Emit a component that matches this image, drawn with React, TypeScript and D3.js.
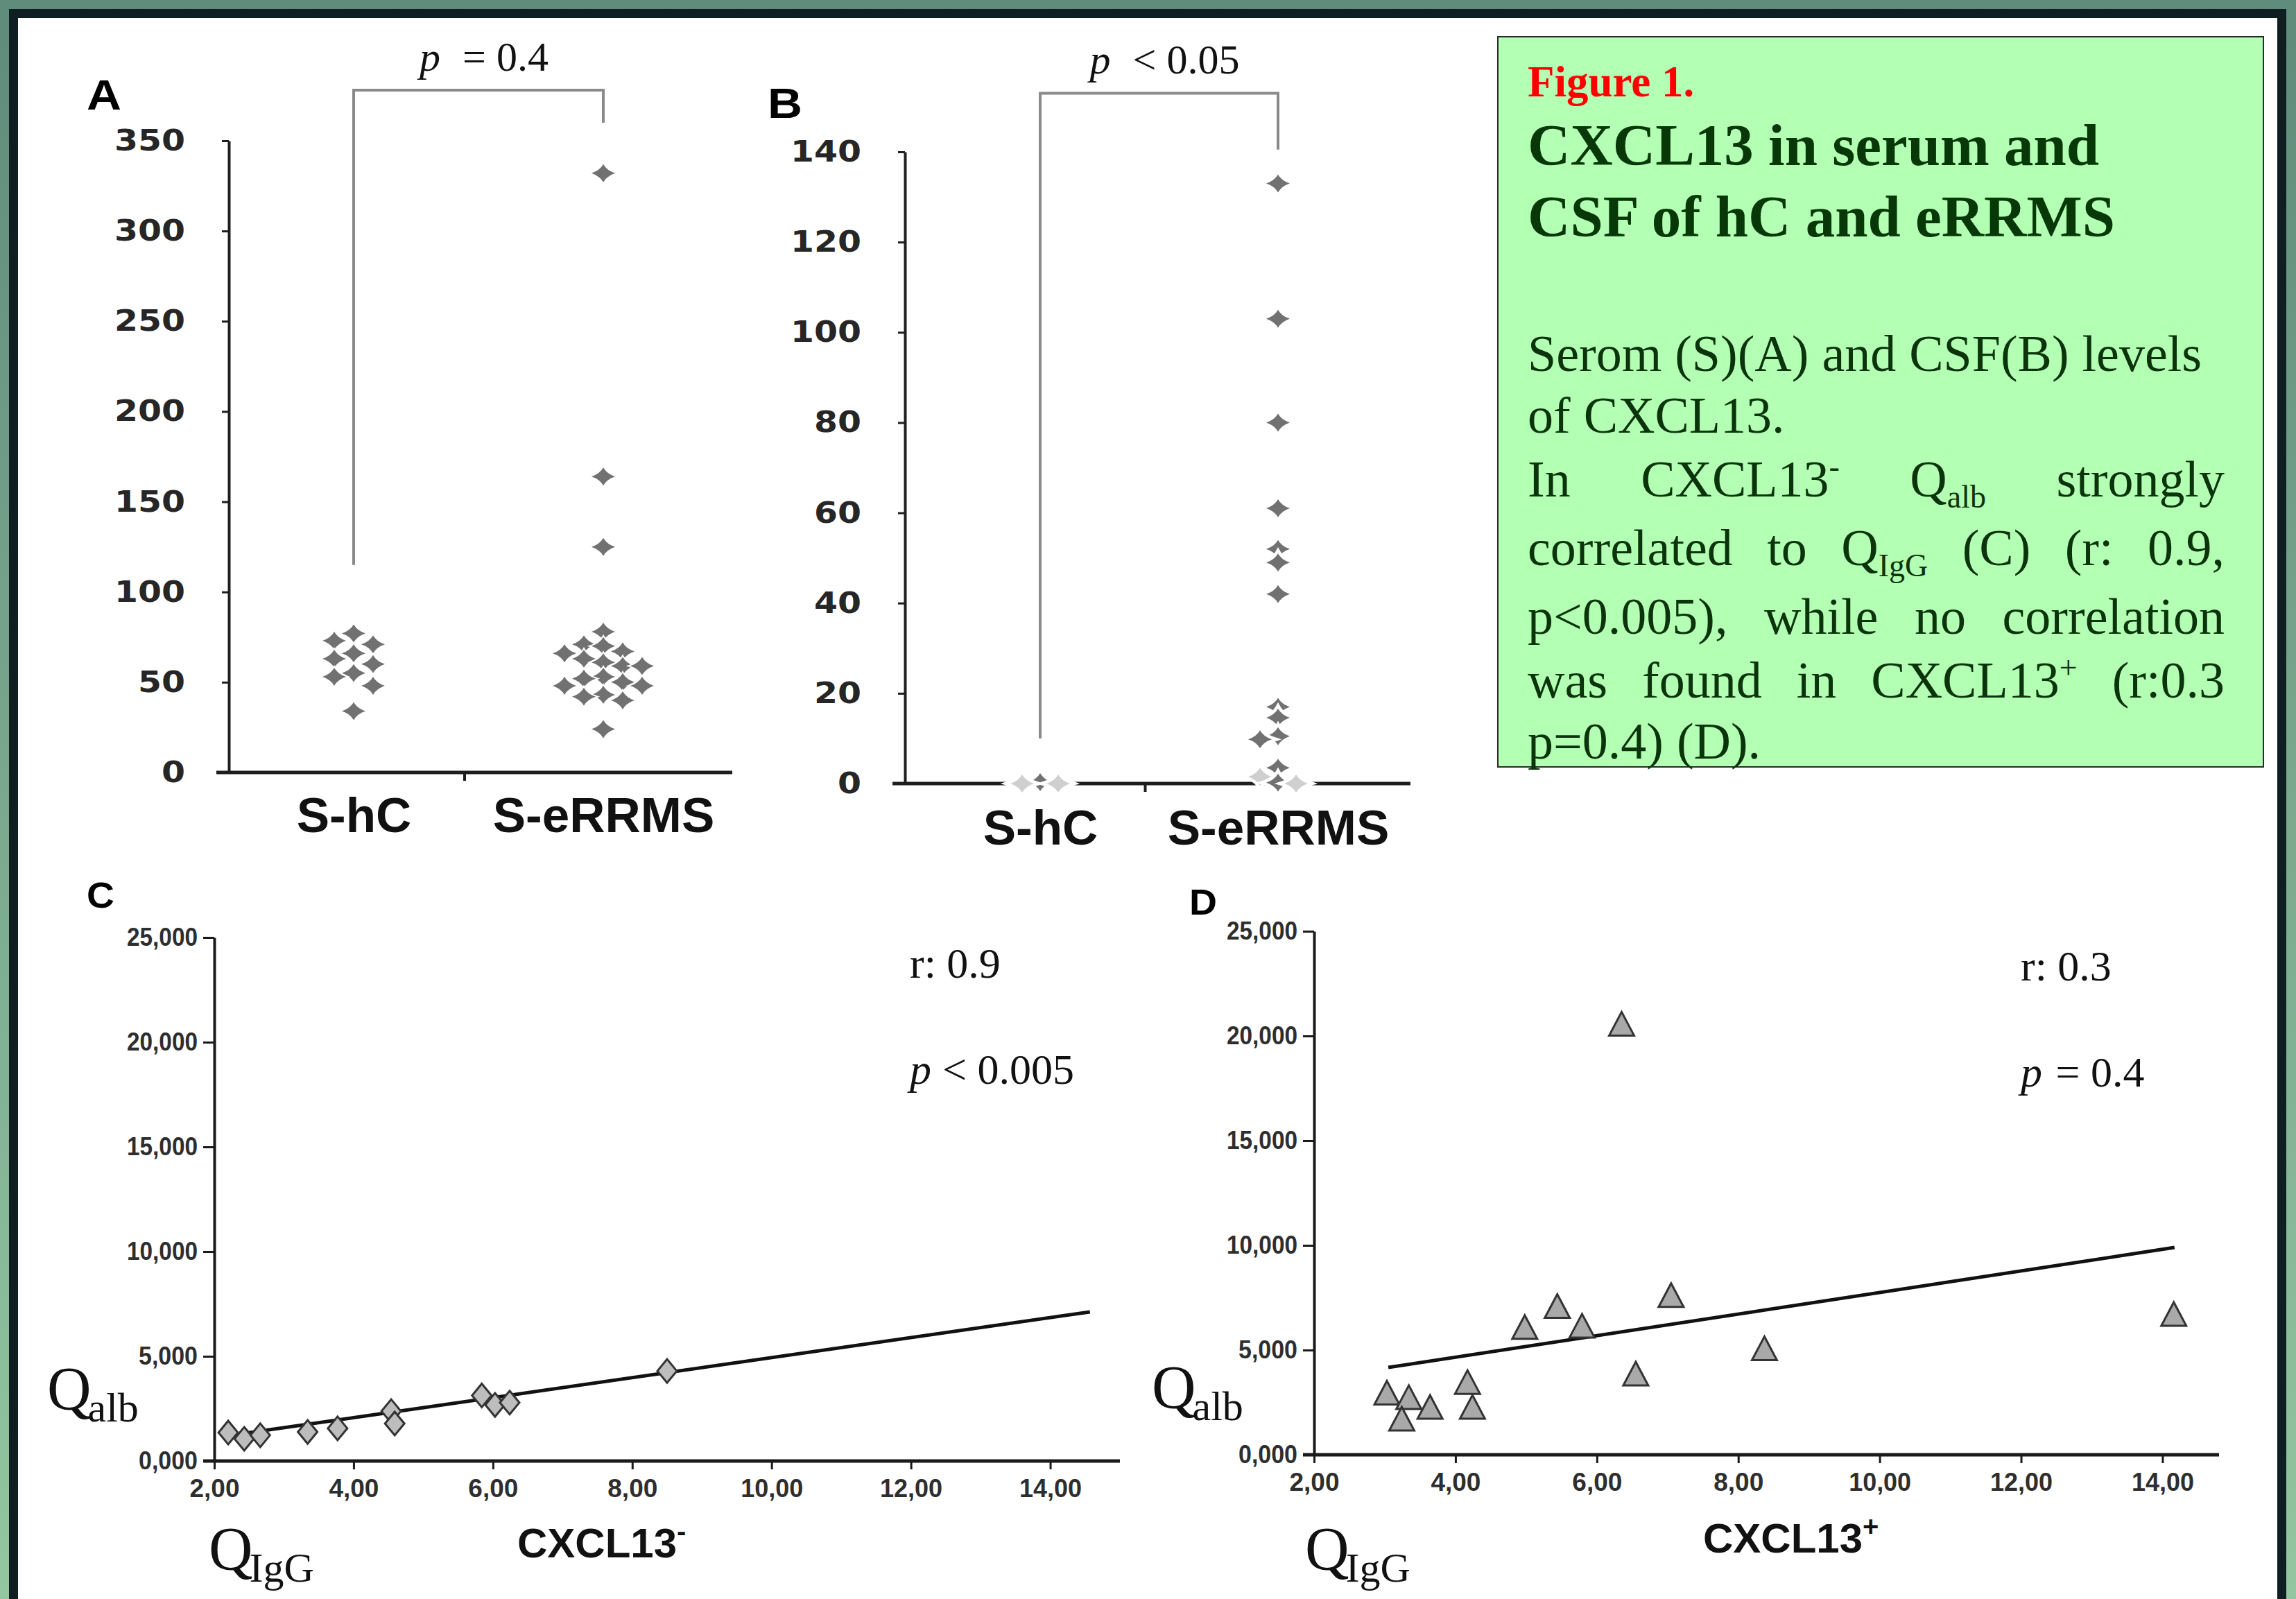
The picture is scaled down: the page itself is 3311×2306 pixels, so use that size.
import * as d3 from "d3"
import { useRef, useEffect } from "react"

const W = 3311
const H = 2306

// panel A - serum CXCL13
const serumGroups = ["S-hC", "S-eRRMS"]
const serumHC = [77, 73, 71, 66, 63, 60, 55, 53, 48, 34]
const serumERRMS = [332, 164, 125, 78, 71, 70, 67, 66, 63, 61, 59, 59, 53, 52, 50, 48, 48, 43, 42, 40, 24]
const serumTicks = [0, 50, 100, 150, 200, 250, 300, 350]

// panel B - CSF CXCL13 (faint = markers drawn pale in the original)
const csfGroups = ["S-hC", "S-eRRMS"]
const csfHC = [0.3]
const csfHCFaint = [0, 0]
const csfERRMS = [133, 103, 80, 61, 52, 49, 42, 17, 14.6, 10.5, 9.8, 3.5, 0.2]
const csfERRMSFaint = [1.5, 0]
const csfTicks = [0, 20, 40, 60, 80, 100, 120, 140]

// panel C - CXCL13 negative
const negQIgG = [2.2, 2.43, 2.66, 3.34, 3.77, 4.54, 4.59, 5.84, 6.03, 6.24, 8.5]
const negQAlb = [1.36, 1.06, 1.23, 1.39, 1.56, 2.38, 1.79, 3.13, 2.68, 2.79, 4.3]
const negFit = [0.157, 0.478] // intercept, slope
const negFitRange = [2.16, 14.57]

// panel D - CXCL13 positive
const posQIgG = [6.35, 7.05, 5.44, 4.98, 5.79, 8.37, 6.55, 14.16, 3.03, 3.34, 3.24, 3.64, 4.17, 4.24]
const posQAlb = [20.45, 7.49, 6.97, 5.97, 6.03, 4.95, 3.74, 6.59, 2.83, 2.62, 1.59, 2.15, 3.34, 2.15]
const posFit = [2.6, 0.515]
const posFitRange = [3.05, 14.17]

const qAlbTicks = [0, 5, 10, 15, 20, 25]
const qAlbLabels = ["0,000", "5,000", "10,000", "15,000", "20,000", "25,000"]
const qIgGTicks = [2, 4, 6, 8, 10, 12, 14]
const qIgGLabels = ["2,00", "4,00", "6,00", "8,00", "10,00", "12,00", "14,00"]

const captionHead = "Figure 1."
const captionTitle = ["CXCL13 in serum and", "CSF of hC and eRRMS"]
const captionLines = [
  "Serom (S)(A) and CSF(B) levels",
  "of CXCL13.",
  "In CXCL13^- Q_alb strongly",
  "correlated to Q_IgG (C) (r: 0.9,",
  "p<0.005), while no correlation",
  "was found in CXCL13^+ (r:0.3",
  "p=0.4) (D).",
]
const captionJustify = [false, false, true, true, true, true, false]

const serif = "'Liberation Serif', 'Times New Roman', serif"
const sans = "'Liberation Sans', Arial, sans-serif"
const verdana = "'DejaVu Sans', Verdana, sans-serif"
const narrow = "'Liberation Sans Narrow', 'Liberation Sans', Arial, sans-serif"

const starPath = "M0,-13 Q5,-4 17,0 Q5,4 0,13 Q-5,4 -17,0 Q-5,-4 0,-13 Z"
const diamondPath = "M0,-17 L14,0 L0,17 L-14,0 Z"
const trianglePath = "M0,-21 L18,13 L-18,13 Z"

type Pt = { v: number; faint: boolean }

// simple column beeswarm, at most two columns each side
const swarm = (vals: Pt[], y: (v: number) => number, cx: number, step: number, gap: number) => {
  const placed: { k: number; y: number }[] = []
  const cands = [0, -1, 1, -2, 2]
  return [...vals]
    .sort((a, b) => b.v - a.v)
    .map((d) => {
      const py = y(d.v)
      let best = 0
      let bestD = -1
      for (const k of cands) {
        const near = placed.filter((p) => p.k === k).map((p) => Math.abs(p.y - py))
        const m = near.length ? Math.min(...near) : Infinity
        if (m >= gap) {
          best = k
          bestD = Infinity
          break
        }
        if (m > bestD) {
          bestD = m
          best = k
        }
      }
      placed.push({ k: best, y: py })
      return { ...d, x: cx + best * step, y: py }
    })
}

const stretchText = (sel: any, perChar: number) =>
  sel
    .attr("textLength", (d: any, i: number, n: any) => n[i].textContent.length * perChar)
    .attr("lengthAdjust", "spacingAndGlyphs")

const drawDotPanel = (svg: any, o: any) => {
  const y = d3.scaleLinear().domain([0, o.max]).range([o.bottom, o.top])
  const x = d3.scalePoint().domain(o.groups).range(o.centers)
  const g = svg.append("g")

  g.append("text")
    .attr("x", o.letterX)
    .attr("y", o.letterY)
    .attr("font-family", sans)
    .attr("font-weight", "bold")
    .attr("font-size", 62)
    .attr("textLength", 50)
    .attr("lengthAdjust", "spacingAndGlyphs")
    .text(o.letter)

  const ya = g
    .append("g")
    .attr("transform", `translate(${o.left},0)`)
    .call(d3.axisLeft(y).tickValues(o.ticks).tickSize(10).tickSizeOuter(0).tickPadding(53))
  ya.select(".domain").attr("stroke", "#1e1e1e").attr("stroke-width", 4)
  ya.selectAll(".tick line").attr("stroke", "#1e1e1e").attr("stroke-width", 3)
  stretchText(
    ya
      .selectAll("text")
      .attr("font-family", verdana)
      .attr("font-weight", "bold")
      .attr("font-size", 42)
      .attr("fill", "#262626"),
    34
  )

  // x axis line and the tick between groups
  g.append("line")
    .attr("x1", o.left - 18)
    .attr("x2", o.axisEnd)
    .attr("y1", o.bottom)
    .attr("y2", o.bottom)
    .attr("stroke", "#1e1e1e")
    .attr("stroke-width", 5)
  const mid = (x(o.groups[0])! + x(o.groups[1])!) / 2 - 20
  g.append("line")
    .attr("x1", mid)
    .attr("x2", mid)
    .attr("y1", o.bottom)
    .attr("y2", o.bottom + 12)
    .attr("stroke", "#1e1e1e")
    .attr("stroke-width", 4)

  const xa = g
    .append("g")
    .attr("transform", `translate(0,${o.bottom})`)
    .call(d3.axisBottom(x).tickSize(0))
  xa.select(".domain").remove()
  xa.selectAll("text")
    .attr("y", o.labelDy)
    .attr("dy", 0)
    .attr("font-family", sans)
    .attr("font-weight", "bold")
    .attr("font-size", 71)
    .attr("fill", "#111")

  // bracket with p value
  const [lf, rf, top] = o.bracket
  const bx0 = x(o.groups[0])!
  const bx1 = x(o.groups[1])!
  g.append("path")
    .attr("d", `M${bx0},${y(lf)} V${y(top)} H${bx1} V${y(rf)}`)
    .attr("fill", "none")
    .attr("stroke", "#8a8a8a")
    .attr("stroke-width", 4)
  const pt = g
    .append("text")
    .attr("x", (bx0 + bx1) / 2 + 8)
    .attr("y", y(top) - 28)
    .attr("text-anchor", "middle")
    .attr("font-family", serif)
    .attr("font-size", 60)
    .attr("fill", "#111")
  pt.append("tspan").attr("font-style", "italic").text("p")
  pt.append("tspan").attr("dx", 32).text(o.pText)

  // markers
  o.series.forEach((vals: Pt[], i: number) => {
    const pts = swarm(vals, y, x(o.groups[i])!, o.step, o.gap)
    g.append("g")
      .selectAll("path")
      .data(pts)
      .join("path")
      .attr("d", starPath)
      .attr("transform", (d: any) => `translate(${d.x},${d.y})`)
      .attr("fill", (d: any) => (d.faint ? "#cfcfcf" : "#717171"))
      .attr("stroke", "#fff")
      .attr("stroke-width", o.halo)
      .attr("paint-order", "stroke")
  })
}

const drawScatter = (svg: any, o: any) => {
  const x = d3.scaleLinear().domain(o.xDomain).range([o.left, o.right])
  const y = d3.scaleLinear().domain([0, 25]).range([o.bottom, o.top])
  const g = svg.append("g")

  g.append("text")
    .attr("x", o.letterX)
    .attr("y", o.letterY)
    .attr("font-family", sans)
    .attr("font-weight", "bold")
    .attr("font-size", 52)
    .attr("textLength", 40)
    .attr("lengthAdjust", "spacingAndGlyphs")
    .text(o.letter)

  const ya = g
    .append("g")
    .attr("transform", `translate(${o.left},0)`)
    .call(
      d3
        .axisLeft(y)
        .tickValues(qAlbTicks)
        .tickFormat((_: any, i: number) => qAlbLabels[i])
        .tickSize(16)
        .tickSizeOuter(0)
        .tickPadding(8)
    )
  ya.select(".domain").attr("stroke", "#1a1a1a").attr("stroke-width", 4)
  ya.selectAll(".tick line").attr("stroke", "#1a1a1a").attr("stroke-width", 3)
  stretchText(
    ya
      .selectAll("text")
      .attr("font-family", narrow)
      .attr("font-weight", "bold")
      .attr("font-size", 36)
      .attr("fill", "#2e2e2e"),
    17
  )

  g.append("line")
    .attr("x1", o.left - 16)
    .attr("x2", x(o.xDomain[1]))
    .attr("y1", o.bottom)
    .attr("y2", o.bottom)
    .attr("stroke", "#1a1a1a")
    .attr("stroke-width", 5)
  const xa = g
    .append("g")
    .attr("transform", `translate(0,${o.bottom})`)
    .call(
      d3
        .axisBottom(x)
        .tickValues(qIgGTicks)
        .tickFormat((_: any, i: number) => qIgGLabels[i])
        .tickSize(12)
        .tickSizeOuter(0)
        .tickPadding(14)
    )
  xa.select(".domain").remove()
  xa.selectAll(".tick line").attr("stroke", "#1a1a1a").attr("stroke-width", 3)
  stretchText(
    xa
      .selectAll("text")
      .attr("font-family", narrow)
      .attr("font-weight", "bold")
      .attr("font-size", 36)
      .attr("fill", "#2e2e2e"),
    18
  )

  // regression line
  g.append("path")
    .attr("d", d3.line()(o.fitRange.map((v: number) => [x(v), y(o.fit[0] + o.fit[1] * v)])))
    .attr("stroke", "#111")
    .attr("stroke-width", 5)
    .attr("fill", "none")

  g.append("g")
    .selectAll("path")
    .data(o.xs.map((v: number, i: number) => [v, o.ys[i]]))
    .join("path")
    .attr("d", o.shape)
    .attr("transform", (d: number[]) => `translate(${x(d[0])},${y(d[1])})`)
    .attr("fill", o.fill)
    .attr("stroke", "#333")
    .attr("stroke-width", 3)

  // r and p
  g.append("text")
    .attr("x", o.statX)
    .attr("y", o.rY)
    .attr("font-family", serif)
    .attr("font-size", 62)
    .attr("fill", "#111")
    .text(o.rText)
  const pt = g
    .append("text")
    .attr("x", o.statX)
    .attr("y", o.rY + 153)
    .attr("font-family", serif)
    .attr("font-size", 62)
    .attr("fill", "#111")
  pt.append("tspan").attr("font-style", "italic").text("p")
  pt.append("tspan").attr("dx", o.pGap).text(o.pText)

  // axis names
  const q = (qx: number, qy: number, sub: string) => {
    const t = g
      .append("text")
      .attr("x", qx)
      .attr("y", qy)
      .attr("font-family", serif)
      .attr("font-size", 88)
      .attr("fill", "#111")
    t.append("tspan").text("Q")
    t.append("tspan").attr("font-size", 60).attr("dy", 18).attr("dx", -5).text(sub)
  }
  q(o.qAlbX, o.qAlbY, "alb")
  q(o.qIgGX, o.qIgGY, "IgG")
  const c = g
    .append("text")
    .attr("x", o.nameX)
    .attr("y", o.nameY)
    .attr("font-family", sans)
    .attr("font-weight", "bold")
    .attr("font-size", 60)
    .attr("fill", "#111")
  c.append("tspan").text("CXCL13")
  c.append("tspan").attr("font-size", 40).attr("dy", -24).text(o.sign)
}

const drawCaption = (svg: any) => {
  const g = svg.append("g")
  const left = 2203
  const right = 3208
  const body = "#0c340c"
  g.append("rect")
    .attr("x", 2160)
    .attr("y", 53)
    .attr("width", 1104)
    .attr("height", 1053)
    .attr("fill", "#b3ffb3")
    .attr("stroke", "#2a2a2a")
    .attr("stroke-width", 2)
  g.append("text")
    .attr("x", left)
    .attr("y", 139)
    .attr("font-family", serif)
    .attr("font-weight", "bold")
    .attr("font-size", 63)
    .attr("fill", "#ff0000")
    .text(captionHead)
  captionTitle.forEach((s, i) =>
    g
      .append("text")
      .attr("x", left)
      .attr("y", 238 + i * 103)
      .attr("font-family", serif)
      .attr("font-weight", "bold")
      .attr("font-size", 85)
      .attr("fill", "#083808")
      .text(s)
  )
  const baselines = [535, 624, 716, 815, 914, 1006, 1094]
  captionLines.forEach((line, i) => {
    const nodes = line.split(" ").map((w) => {
      const t = g
        .append("text")
        .attr("y", baselines[i])
        .attr("font-family", serif)
        .attr("font-size", 74)
        .attr("fill", body)
      const m = w.match(/^(.*?)([_^])(.+)$/)
      if (m) {
        t.append("tspan").text(m[1])
        t.append("tspan")
          .attr("font-size", 46)
          .attr("dy", m[2] === "_" ? 16 : -28)
          .text(m[3])
      } else t.text(w)
      return t
    })
    const widths = nodes.map((n: any) => (n.node() as SVGTextElement).getComputedTextLength())
    const total = d3.sum(widths)
    const gap = captionJustify[i] && nodes.length > 1 ? (right - left - total) / (nodes.length - 1) : 19
    let cx = left
    nodes.forEach((n: any, j: number) => {
      n.attr("x", cx)
      cx += widths[j] + gap
    })
  })
}

const App = () => {
  const svgRef = useRef<SVGSVGElement>(null)

  useEffect(() => {
    document.body.style.margin = "0"
    const svg = d3.select(svgRef.current)
    svg.selectAll("*").remove()

    // frame
    const grad = svg
      .append("defs")
      .append("linearGradient")
      .attr("id", "bg")
      .attr("x1", 0)
      .attr("y1", 0)
      .attr("x2", 0)
      .attr("y2", 1)
    grad.append("stop").attr("offset", "0%").attr("stop-color", "#5f8b7b")
    grad.append("stop").attr("offset", "100%").attr("stop-color", "#94c6a1")
    svg.append("rect").attr("width", W).attr("height", H).attr("fill", "url(#bg)")
    svg.append("rect").attr("x", 13).attr("y", 13).attr("width", 3284).attr("height", H).attr("fill", "#0f1f21")
    svg.append("rect").attr("x", 26).attr("y", 26).attr("width", 3258).attr("height", H).attr("fill", "#fff")

    drawDotPanel(svg, {
      groups: serumGroups,
      series: [
        serumHC.map((v) => ({ v, faint: false })),
        serumERRMS.map((v) => ({ v, faint: false })),
      ],
      ticks: serumTicks,
      max: 350,
      left: 330,
      top: 203,
      bottom: 1114,
      centers: [510, 870],
      axisEnd: 1056,
      labelDy: 86,
      step: 28,
      gap: 20,
      halo: 4,
      letter: "A",
      letterX: 125,
      letterY: 158,
      pText: "= 0.4",
      bracket: [115, 360, 378],
    })

    drawDotPanel(svg, {
      groups: csfGroups,
      series: [
        [...csfHC.map((v) => ({ v, faint: false })), ...csfHCFaint.map((v) => ({ v, faint: true }))],
        [...csfERRMS.map((v) => ({ v, faint: false })), ...csfERRMSFaint.map((v) => ({ v, faint: true }))],
      ],
      ticks: csfTicks,
      max: 140,
      left: 1305,
      top: 219,
      bottom: 1130,
      centers: [1500, 1843],
      axisEnd: 2034,
      labelDy: 88,
      step: 26,
      gap: 14,
      halo: 9,
      letter: "B",
      letterX: 1107,
      letterY: 170,
      pText: "< 0.05",
      bracket: [10, 140.5, 153],
    })

    drawScatter(svg, {
      xs: negQIgG,
      ys: negQAlb,
      fit: negFit,
      fitRange: negFitRange,
      xDomain: [2, 15],
      left: 309,
      right: 1615,
      top: 1352,
      bottom: 2107,
      shape: diamondPath,
      fill: "#bdbdbd",
      letter: "C",
      letterX: 125,
      letterY: 1309,
      statX: 1312,
      rY: 1410,
      rText: "r: 0.9",
      pText: "< 0.005",
      pGap: 16,
      qAlbX: 68,
      qAlbY: 2032,
      qIgGX: 301,
      qIgGY: 2263,
      nameX: 746,
      nameY: 2246,
      sign: "-",
    })

    drawScatter(svg, {
      xs: posQIgG,
      ys: posQAlb,
      fit: posFit,
      fitRange: posFitRange,
      xDomain: [2, 14.8],
      left: 1895,
      right: 3200,
      top: 1343,
      bottom: 2098,
      shape: trianglePath,
      fill: "#a9a9a9",
      letter: "D",
      letterX: 1715,
      letterY: 1319,
      statX: 2914,
      rY: 1414,
      rText: "r: 0.3",
      pText: " = 0.4",
      pGap: 4,
      qAlbX: 1661,
      qAlbY: 2030,
      qIgGX: 1882,
      qIgGY: 2263,
      nameX: 2456,
      nameY: 2239,
      sign: "+",
    })

    drawCaption(svg)
  }, [])

  return <svg ref={svgRef} width={W} height={H} style={{ display: "block" }} />
}

export default App
